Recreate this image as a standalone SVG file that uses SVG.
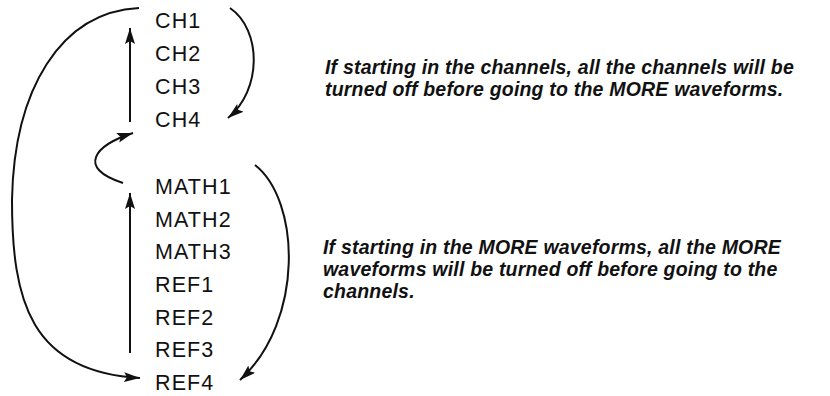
<svg xmlns="http://www.w3.org/2000/svg" width="830" height="396" viewBox="0 0 830 396">
<style>
.lbl{font-family:"Liberation Sans",Arial,sans-serif;font-size:21.5px;letter-spacing:1.1px;fill:#111}
.note{font-family:"Liberation Sans",Arial,sans-serif;font-size:19.5px;font-weight:bold;font-style:italic;letter-spacing:0.2px;fill:#111}
.conn{fill:none;stroke:#111;stroke-width:2;marker-end:url(#ah)}
</style>
<defs>
<marker id="ah" markerUnits="userSpaceOnUse" markerWidth="18" markerHeight="12" refX="16" refY="5" orient="auto">
<path d="M0,0 L16,5 L0,10 L3,5 z" fill="#111"/>
</marker>
</defs>
<rect width="830" height="396" fill="#fff"/>
<g id="connectors">
<path class="conn" d="M130,122 L130,28"/>
<path class="conn" d="M130,353 L130,193"/>
<path class="conn" d="M123,183 C76,168 95,145 133,133"/>
<path class="conn" d="M230,8 C262,30 262,90 228,118"/>
<path class="conn" d="M255,165 C300,200 305,320 240,380"/>
<path class="conn" d="M139,8 C60,12 14,90 12,200 C12,300 30,372 140,378"/>
</g>
<g id="ch1"><text class="lbl" x="155" y="28">CH1</text></g>
<g id="ch2"><text class="lbl" x="155" y="61">CH2</text></g>
<g id="ch3"><text class="lbl" x="155" y="94">CH3</text></g>
<g id="ch4"><text class="lbl" x="155" y="127">CH4</text></g>
<g id="math1"><text class="lbl" x="155" y="194">MATH1</text></g>
<g id="math2"><text class="lbl" x="155" y="227">MATH2</text></g>
<g id="math3"><text class="lbl" x="155" y="259">MATH3</text></g>
<g id="ref1"><text class="lbl" x="155" y="292">REF1</text></g>
<g id="ref2"><text class="lbl" x="155" y="325">REF2</text></g>
<g id="ref3"><text class="lbl" x="155" y="357">REF3</text></g>
<g id="ref4"><text class="lbl" x="155" y="390">REF4</text></g>
<g id="note1">
<text class="note" x="325" y="74">If starting in the channels, all the channels will be</text>
<text class="note" x="325" y="96">turned off before going to the MORE waveforms.</text>
</g>
<g id="note2">
<text class="note" x="323" y="254">If starting in the MORE waveforms, all the MORE</text>
<text class="note" x="323" y="276">waveforms will be turned off before going to the</text>
<text class="note" x="323" y="298">channels.</text>
</g>
</svg>
